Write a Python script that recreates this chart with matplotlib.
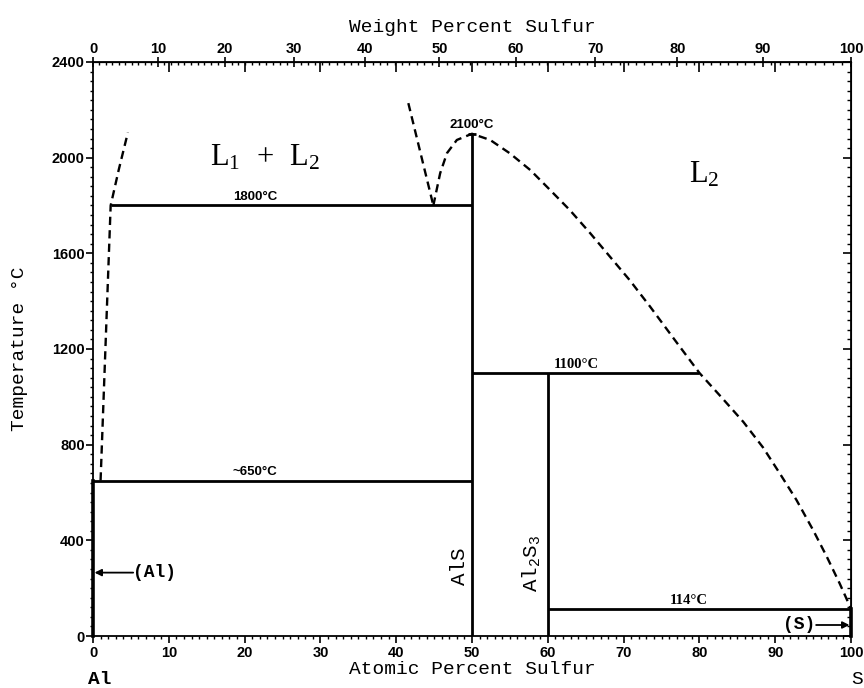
import numpy as np
import matplotlib
matplotlib.use("Agg")
import matplotlib.pyplot as plt
from matplotlib.ticker import MultipleLocator, NullFormatter

# ---------------- data ----------------
M_AL, M_S = 26.98, 32.06

at_ticks = list(range(0, 101, 10))
wt_ticks = list(range(0, 101, 10))
T_ticks = list(range(0, 2401, 400))

# Al-rich liquid boundary (dashed)
left_liq_x = [1.0, 2.33, 3.4, 4.6]
left_liq_T = [650, 1800, 1950, 2105]

# miscibility gap boundary (dashed)
gap_x = [41.6, 44.9]
gap_T = [2228, 1800]

# AlS dome + S-side liquidus (dashed)
liq_x = [44.9, 45.8, 46.7, 48.0, 50.0, 52.4, 55.0, 57.7, 60.3, 62.9, 65.6,
         68.2, 70.8, 73.5, 76.7, 80.0, 83.0, 85.8, 88.4, 90.6, 92.8, 95.0,
         96.8, 98.5, 100.0]
liq_T = [1800, 1935, 2019, 2074, 2100, 2074, 2018, 1948, 1865, 1781, 1684,
         1586, 1488, 1377, 1240, 1100, 995, 895, 788, 680, 569, 443,
         332, 220, 114]

# invariant horizontals: (x_start, x_end, T)
h_lines = [(2.33, 50, 1800), (0, 50, 650), (50, 80, 1100), (60, 100, 114),
           (49.5, 50.5, 2100)]
# compound verticals: (x, T_top)
v_lines = [(50, 2100), (60, 1100)]

# ---------------- helpers ----------------
def at2wt(x):
    x = np.asarray(x, dtype=float)
    with np.errstate(divide="ignore", invalid="ignore"):
        return 100 * x * M_S / (x * M_S + (100 - x) * M_AL)

def wt2at(w):
    w = np.asarray(w, dtype=float)
    with np.errstate(divide="ignore", invalid="ignore"):
        a = w / M_S
        b = (100 - w) / M_AL
        return 100 * a / (a + b)

ident = (lambda v: v, lambda v: v)

tick_font = dict(family="Liberation Sans", weight="bold", size=10.5)
title_font = dict(family="Liberation Mono", size=14)

def style_labels(labels):
    for lab in labels:
        lab.set_fontfamily(tick_font["family"])
        lab.set_fontweight(tick_font["weight"])
        lab.set_fontsize(tick_font["size"])

fig = plt.figure(figsize=(8.64, 6.88), dpi=100)
ax = fig.add_axes([93 / 864, 1 - 636 / 688, (851 - 93) / 864, (636 - 62) / 688])
ax.set_xlim(0, 100)
ax.set_ylim(0, 2400)

for s in ax.spines.values():
    s.set_linewidth(1.3)

# main ticks
ax.set_xticks(at_ticks)
ax.set_yticks(T_ticks)
ax.xaxis.set_minor_locator(MultipleLocator(1))
ax.yaxis.set_minor_locator(MultipleLocator(40))
ax.tick_params(axis="both", which="major", direction="out", length=5, width=1.2, pad=2)
ax.tick_params(axis="both", which="minor", direction="out", length=2.5, width=1.0)
ax.tick_params(axis="y", pad=1)
style_labels(ax.get_xticklabels() + ax.get_yticklabels())

# top at% ticks (inward, no labels)
top_at = ax.secondary_xaxis("top", functions=ident)
top_at.set_xticks(at_ticks[1:-1])
top_at.tick_params(direction="in", length=7, width=1.2, labeltop=False)
top_at.xaxis.set_major_formatter(NullFormatter())

# top wt% ticks
top_wt = ax.secondary_xaxis("top", functions=(at2wt, wt2at))
top_wt.set_xticks(wt_ticks)
top_wt.xaxis.set_minor_locator(MultipleLocator(1))
top_wt.tick_params(which="major", direction="inout", length=7, width=1.2, pad=1)
top_wt.tick_params(which="minor", direction="in", length=2.5, width=1.0)
style_labels(top_wt.get_xticklabels())
top_wt.set_xlabel("Weight Percent Sulfur", labelpad=7, **title_font)

# right ticks
right = ax.secondary_yaxis("right", functions=ident)
right.set_yticks(T_ticks)
right.yaxis.set_minor_locator(MultipleLocator(40))
right.tick_params(which="major", direction="in", length=6, width=1.2)
right.tick_params(which="minor", direction="in", length=3, width=1.0)
right.yaxis.set_major_formatter(NullFormatter())

ax.set_xlabel("Atomic Percent Sulfur", labelpad=1, **title_font)
ax.set_ylabel("Temperature °C", labelpad=17, **title_font)

# ---------------- lines ----------------
dash = dict(color="black", lw=1.7, ls=(0, (3.5, 2.2)))
ax.plot(left_liq_x, left_liq_T, **dash)
ax.plot(gap_x, gap_T, **dash)
ax.plot(liq_x, liq_T, **dash)

solid = dict(color="black", lw=2.0, solid_capstyle="butt")
for x0, x1, T in h_lines:
    ax.plot([x0, x1], [T, T], **solid)
for x, T in v_lines:
    ax.plot([x, x], [0, T], **solid)
ax.plot([0, 0], [0, 650], color="black", lw=2.6, clip_on=False)
ax.plot([100, 100], [0, 114], color="black", lw=2.6, clip_on=False)

# arrows
ax.annotate("", xy=(0.2, 265), xytext=(5.3, 265),
            arrowprops=dict(arrowstyle="-|>", color="black", lw=1.3,
                            mutation_scale=10, shrinkA=0, shrinkB=0))
ax.annotate("", xy=(99.8, 46), xytext=(95.4, 46),
            arrowprops=dict(arrowstyle="-|>", color="black", lw=1.3,
                            mutation_scale=10, shrinkA=0, shrinkB=0))
ax.text(5.3, 265, "(Al)", ha="left", va="center", family="Liberation Mono",
        weight="bold", fontsize=13)
ax.text(95.3, 46, "(S)", ha="right", va="center", family="Liberation Mono",
        weight="bold", fontsize=13)

# ---------------- labels ----------------
ax.text(22.7, 2000, r"$\mathregular{L_1\ +\ L_2}$", ha="center", va="center",
        family="Liberation Serif", fontsize=22)
ax.text(80.6, 1930, r"$\mathregular{L_2}$", ha="center", va="center",
        family="Liberation Serif", fontsize=22)

lbl_sans = dict(family="Liberation Sans", weight="bold", fontsize=9.5,
                ha="center", va="bottom")
lbl_serif = dict(family="Liberation Serif", weight="bold", fontsize=10.5,
                 ha="center", va="bottom")
ax.text(50.0, 2110, "2100°C", **lbl_sans)
ax.text(21.4, 1812, "1800°C", **lbl_sans)
ax.text(21.4, 660, "~650°C", **lbl_sans)
ax.text(63.8, 1108, "1100°C", **lbl_serif)
ax.text(78.6, 120, "114°C", **lbl_serif)

ax.text(48.3, 290, "AlS", rotation=90, ha="center", va="center",
        family="Liberation Mono", fontsize=15)
ax.text(57.9, 305, r"$\mathregular{Al_2S_3}$", rotation=90, ha="center",
        va="center", family="Liberation Mono", fontsize=15)

fig.text(100 / 864, 1 - 680 / 688, "Al", ha="center", va="center",
         family="Liberation Mono", fontsize=14, weight="bold")
fig.text(857 / 864, 1 - 680 / 688, "S", ha="center", va="center",
         family="Liberation Mono", fontsize=14)

fig.savefig("out.png", dpi=100)
